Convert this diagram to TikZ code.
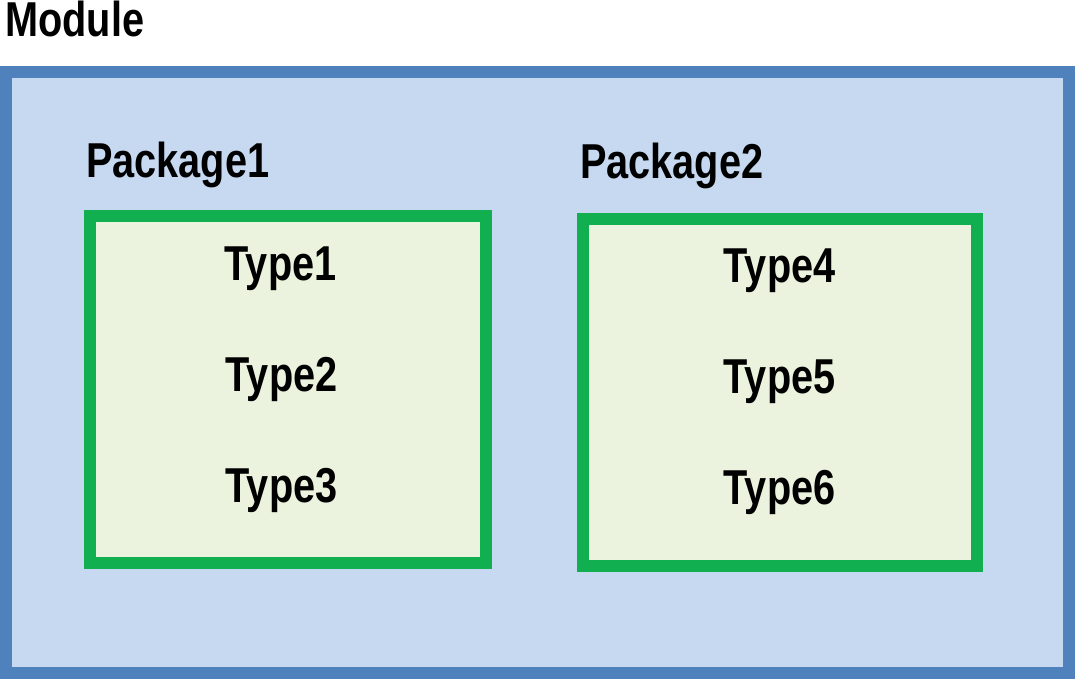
\documentclass[tikz,border=0pt]{standalone}
\usepackage{fontspec}
\newfontfamily\lblfont{Liberation Sans}[FakeStretch=0.81]
\definecolor{modblue}{RGB}{79,129,189}
\definecolor{modfill}{RGB}{198,217,240}
\definecolor{pkggreen}{RGB}{17,175,79}
\definecolor{pkgfill}{RGB}{235,243,222}
\tikzset{
 modbox/.style={draw=modblue,fill=modfill,line width=12pt,inner sep=0pt},
 pkgbox/.style={draw=pkggreen,fill=pkgfill,line width=12pt,inner sep=0pt},
 lbl/.style={inner sep=0pt,anchor=base west,font=\lblfont\bfseries\fontsize{49}{50}\selectfont},
 typ/.style={lbl,anchor=base}
}
\begin{document}
\begin{tikzpicture}[x=1pt,y=1pt]
 \useasboundingbox (0,0) rectangle (1075,679);
 \node[modbox,minimum width=1063pt,minimum height=601pt] (module) at (537.5,306.5) {};
 \node[pkgbox,minimum width=396pt,minimum height=347pt] (pkg1) at (288,289.5) {};
 \node[pkgbox,minimum width=394pt,minimum height=347pt] (pkg2) at (780,286.5) {};
 \node[lbl] (modlbl) at (5,642) {Module};
 \node[lbl] (pkg1lbl) at (86,501) {Package1};
 \node[lbl] (pkg2lbl) at (580,500) {Package2};
 \node[typ] (type1) at (280.5,398) {Type1};
 \node[typ] (type2) at (281.5,287) {Type2};
 \node[typ] (type3) at (281.5,176) {Type3};
 \node[typ] (type4) at (779.5,396) {Type4};
 \node[typ] (type5) at (779.5,285) {Type5};
 \node[typ] (type6) at (779.5,174) {Type6};
\end{tikzpicture}
\end{document}
